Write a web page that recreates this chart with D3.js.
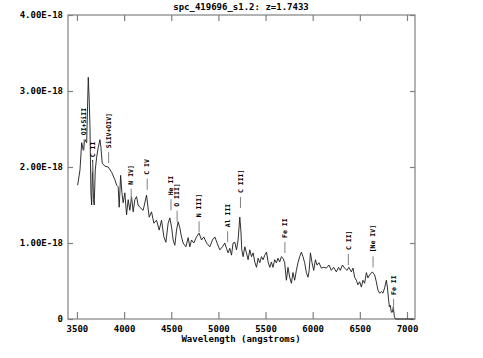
<!DOCTYPE html>
<meta charset="UTF-8">
<head>
    <title>spc_419696_s1.2</title>
    <style>
        body { margin: 0; background: #fff; }
        text { font-family: "DejaVu Sans Mono", monospace; font-weight: bold; fill: #000; }
    </style>
</head>
<body>
<svg width="483" height="358"></svg>
<script src="https://d3js.org/d3.v7.min.js"></script>
<script>

// Spectrum: wavelength (angstroms) and flux (units of 1E-18).
var wave = [3507, 3532, 3550, 3567, 3585, 3603, 3620, 3630, 3638, 3648, 3656, 3666, 3675, 3683, 3694,
    3709, 3726, 3744, 3754, 3768, 3797, 3832, 3868, 3903, 3921, 3937, 3948, 3963, 3977, 3990,
    4008, 4026, 4043, 4061, 4079, 4096, 4114, 4132, 4149, 4167, 4202, 4238, 4266, 4291, 4316,
    4344, 4372, 4397, 4422, 4443, 4467, 4485, 4503, 4520, 4538, 4556, 4573, 4591, 4609, 4626,
    4655, 4679, 4697, 4715, 4739, 4768, 4795, 4821, 4845, 4874, 4909, 4937, 4962, 4986, 5015,
    5043, 5068, 5086, 5103, 5121, 5139, 5156, 5174, 5192, 5209, 5227, 5238, 5248, 5262, 5280,
    5298, 5315, 5333, 5351, 5368, 5386, 5404, 5421, 5439, 5457, 5474, 5492, 5510, 5527, 5545,
    5562, 5579, 5597, 5615, 5632, 5650, 5668, 5685, 5703, 5721, 5738, 5756, 5774, 5791, 5809,
    5827, 5844, 5862, 5880, 5897, 5915, 5933, 5950, 5963, 5976, 5993, 6011, 6029, 6046, 6067,
    6092, 6116, 6145, 6173, 6198, 6222, 6251, 6275, 6293, 6315, 6339, 6363, 6384, 6410, 6427,
    6445, 6463, 6480, 6498, 6516, 6533, 6551, 6569, 6586, 6604, 6632, 6657, 6675, 6692, 6710,
    6728, 6745, 6763, 6781, 6792, 6802, 6813, 6823, 6834, 6845, 6855, 6866, 6879, 6974, 7070];

var flux = [1.76, 1.96, 2.32, 2.22, 2.36, 2.32, 3.18, 2.88, 2.53, 1.66, 1.50, 2.09, 1.57, 1.50, 1.96,
    2.13, 2.26, 2.36, 2.26, 2.05, 2.01, 2.00, 1.93, 1.83, 1.76, 1.74, 1.47, 1.89, 1.66, 1.53,
    1.66, 1.37, 1.57, 1.43, 1.61, 1.41, 1.57, 1.61, 1.50, 1.47, 1.43, 1.63, 1.34, 1.41, 1.26,
    1.30, 1.17, 1.30, 1.08, 1.01, 1.26, 1.33, 1.21, 1.04, 0.97, 1.17, 1.28, 1.20, 1.08, 1.00,
    0.95, 1.07, 0.95, 1.04, 1.00, 1.08, 1.13, 1.04, 1.08, 1.00, 0.95, 1.04, 1.08, 1.00, 0.91,
    0.95, 1.00, 0.93, 0.87, 0.93, 0.84, 1.00, 1.01, 0.91, 1.04, 1.34, 1.17, 0.91, 0.82, 0.95,
    0.87, 0.78, 0.91, 0.82, 0.87, 0.75, 0.68, 0.80, 0.74, 0.82, 0.78, 0.84, 0.88, 0.75, 0.68,
    0.75, 0.68, 0.78, 0.74, 0.80, 0.75, 0.82, 0.80, 0.74, 0.51, 0.68, 0.55, 0.47, 0.61, 0.51,
    0.64, 0.74, 0.82, 0.88, 0.82, 0.74, 0.61, 0.55, 0.64, 0.87, 0.74, 0.64, 0.78, 0.71, 0.74,
    0.67, 0.68, 0.67, 0.71, 0.64, 0.68, 0.62, 0.68, 0.64, 0.71, 0.67, 0.64, 0.68, 0.62, 0.67,
    0.55, 0.51, 0.45, 0.49, 0.42, 0.51, 0.47, 0.61, 0.54, 0.58, 0.62, 0.58, 0.49, 0.38, 0.34,
    0.36, 0.34, 0.41, 0.51, 0.42, 0.29, 0.16, 0.18, 0.09, 0.09, 0.16, 0.03, 0.00, 0.00, 0.00];

// Line identifications: name, observed wavelength, flux level of the marker foot.
var lineNames = ["OI+SiII", "C II", "SiIV+OIV]", "N IV]", "C IV", "He II", "O III]", "N III]",
    "Al III", "C III]", "Fe II", "C II]", "[Ne IV]", "Fe II"];
var lineWave = [3575, 3666, 3836, 4075, 4245, 4497, 4562, 4795, 5098, 5234, 5705, 6378, 6640, 6858];
var lineLevel = [2.22, 1.93, 2.05, 1.57, 1.70, 1.43, 1.28, 1.14, 1.01, 1.46, 0.87, 0.71, 0.68, 0.12];

var xTicks = [3500, 4000, 4500, 5000, 5500, 6000, 6500, 7000];
var yTicks = [0, 1, 2, 3, 4];

var svg = d3.select("svg");
var m = {left: 68, right: 415, top: 15, bottom: 319};

var x = d3.scaleLinear().domain([3405, 7085]).range([m.left, m.right]);
var y = d3.scaleLinear().domain([0, 4]).range([m.bottom, m.top]);

var axisColor = "#808080";

function yFormat(d) { return d === 0 ? "0" : d.toFixed(2) + "E-18"; }

// Axes, ticks pointing inward
var gB = svg.append("g").attr("transform", "translate(0," + m.bottom + ")")
    .call(d3.axisBottom(x).tickValues(xTicks).tickSizeInner(-7).tickSizeOuter(0).tickPadding(7).tickFormat(d3.format("d")));
var gT = svg.append("g").attr("transform", "translate(0," + m.top + ")")
    .call(d3.axisTop(x).tickValues(xTicks).tickSizeInner(-6).tickSizeOuter(0).tickFormat(""));
var gL = svg.append("g").attr("transform", "translate(" + m.left + ",0)")
    .call(d3.axisLeft(y).tickValues(yTicks).tickSizeInner(-5).tickSizeOuter(0).tickPadding(5).tickFormat(yFormat));
var gR = svg.append("g").attr("transform", "translate(" + m.right + ",0)")
    .call(d3.axisRight(y).tickValues(yTicks).tickSizeInner(-5).tickSizeOuter(0).tickFormat(""));

[gB, gT, gL, gR].forEach(function(g) {
    g.select(".domain").remove();
    g.selectAll(".tick line").attr("stroke", axisColor).attr("stroke-width", 1.2);
    g.selectAll("text").attr("font-size", 9).attr("font-family", null).attr("fill", "#000");
});

svg.append("rect")
    .attr("x", m.left).attr("y", m.top)
    .attr("width", m.right - m.left).attr("height", m.bottom - m.top)
    .attr("fill", "none").attr("stroke", axisColor).attr("stroke-width", 1.2);

// Spectrum
var pts = wave.map(function(w, i) { return [w, flux[i]]; });
var line = d3.line().x(function(d) { return x(d[0]); }).y(function(d) { return y(d[1]); });

svg.append("path")
    .datum(pts)
    .attr("d", line)
    .attr("fill", "none")
    .attr("stroke", "#1a1a1a")
    .attr("stroke-width", 0.9);

// Line markers
var tickLen = 11, gap = 4;
var marks = svg.selectAll(".mark")
    .data(lineNames.map(function(n, i) { return {name: n, w: lineWave[i], f: lineLevel[i]}; }))
    .enter().append("g").attr("class", "mark");

marks.append("line")
    .attr("x1", function(d) { return x(d.w); })
    .attr("x2", function(d) { return x(d.w); })
    .attr("y1", function(d) { return y(d.f); })
    .attr("y2", function(d) { return y(d.f) - tickLen; })
    .attr("stroke", "#808080")
    .attr("stroke-width", 1);

marks.append("text")
    .attr("transform", function(d) {
        return "translate(" + x(d.w) + "," + (y(d.f) - tickLen - gap) + ") rotate(-90)";
    })
    .attr("dy", "0.35em")
    .attr("font-size", 6.5)
    .text(function(d) { return d.name; });

// Titles
svg.append("text")
    .attr("x", 241).attr("y", 10)
    .attr("text-anchor", "middle")
    .attr("font-size", 9)
    .text("spc_419696_s1.2: z=1.7433");

svg.append("text")
    .attr("x", 241).attr("y", 342)
    .attr("text-anchor", "middle")
    .attr("font-size", 9)
    .text("Wavelength (angstroms)");

</script>
</body>
